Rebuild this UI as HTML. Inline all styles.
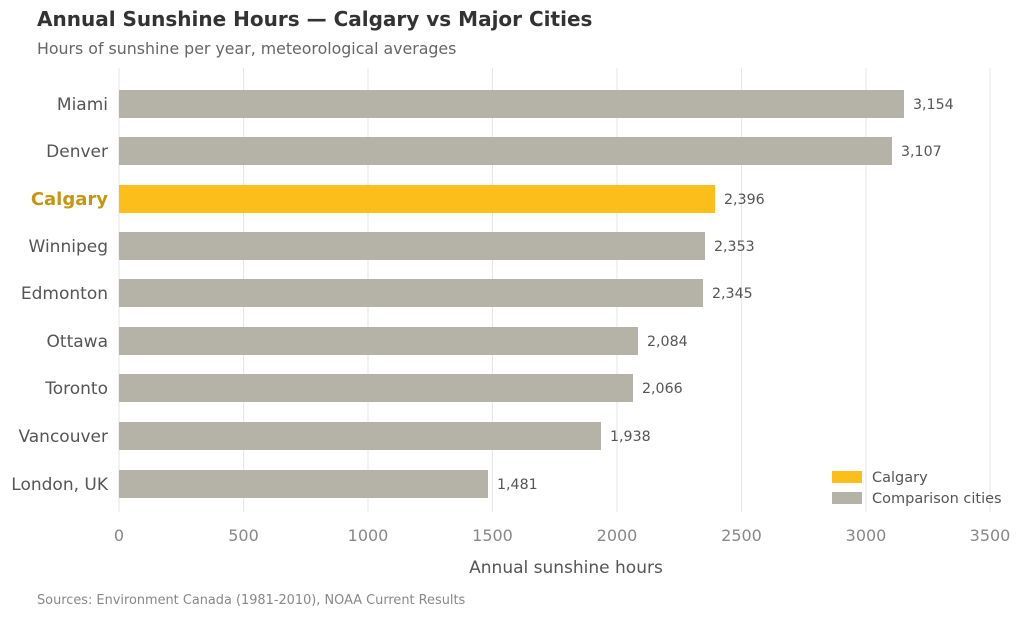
<!DOCTYPE html>
<html><head><meta charset="utf-8"><style>
body{margin:0;background:#fff;}
svg text{font-family:"DejaVu Sans","Liberation Sans",sans-serif;}
</style></head><body>
<svg width="1024" height="616" viewBox="0 0 1024 616" xmlns="http://www.w3.org/2000/svg">
<rect width="1024" height="616" fill="#fff"/>
<text x="37" y="26" font-size="20" font-weight="bold" fill="#333">Annual Sunshine Hours — Calgary vs Major Cities</text>
<text x="37" y="54" font-size="15.8" fill="#666">Hours of sunshine per year, meteorological averages</text>
<g stroke="#e6e6e6" stroke-width="1">
<line x1="119" y1="68" x2="119" y2="512"/><line x1="243.5" y1="68" x2="243.5" y2="512"/>
<line x1="368" y1="68" x2="368" y2="512"/><line x1="492.5" y1="68" x2="492.5" y2="512"/>
<line x1="617" y1="68" x2="617" y2="512"/><line x1="741.5" y1="68" x2="741.5" y2="512"/>
<line x1="866" y1="68" x2="866" y2="512"/><line x1="990" y1="68" x2="990" y2="512"/>
</g>
<g fill="#b5b2a8">
<rect x="119" y="90" width="785" height="28"/>
<rect x="119" y="137" width="773" height="28"/>
<rect x="119" y="232" width="586" height="28"/>
<rect x="119" y="279" width="584" height="28"/>
<rect x="119" y="327" width="519" height="28"/>
<rect x="119" y="374" width="514" height="28"/>
<rect x="119" y="422" width="482" height="28"/>
<rect x="119" y="470" width="369" height="28"/>
</g>
<rect x="119" y="185" width="596" height="28" fill="#fbbe1a"/>
<g font-size="17" fill="#555" text-anchor="end">
<text x="108" y="110">Miami</text><text x="108" y="157">Denver</text>
<text x="108" y="205" fill="#c4970f" font-weight="bold" font-size="18">Calgary</text>
<text x="108" y="252">Winnipeg</text><text x="108" y="299">Edmonton</text>
<text x="108" y="347">Ottawa</text><text x="108" y="394">Toronto</text>
<text x="108" y="442">Vancouver</text><text x="108" y="490">London, UK</text>
</g>
<g font-size="14.2" fill="#555">
<text x="913" y="109">3,154</text><text x="901" y="156">3,107</text>
<text x="724" y="204">2,396</text><text x="714" y="251">2,353</text>
<text x="712" y="298">2,345</text><text x="647" y="346">2,084</text>
<text x="642" y="393">2,066</text><text x="610" y="441">1,938</text>
<text x="497" y="489">1,481</text>
</g>
<g font-size="16" fill="#888" text-anchor="middle">
<text x="119" y="541">0</text><text x="243.5" y="541">500</text><text x="368" y="541">1000</text>
<text x="492.5" y="541">1500</text><text x="617" y="541">2000</text><text x="741.5" y="541">2500</text>
<text x="866" y="541">3000</text><text x="990" y="541">3500</text>
</g>
<text x="566" y="573" font-size="17" fill="#555" text-anchor="middle">Annual sunshine hours</text>
<text x="37" y="604" font-size="12.9" fill="#888">Sources: Environment Canada (1981-2010), NOAA Current Results</text>
<rect x="832" y="471" width="30" height="12" fill="#fbbe1a"/>
<rect x="832" y="492" width="30" height="12" fill="#b5b2a8"/>
<text x="872" y="482" font-size="14.5" fill="#555">Calgary</text>
<text x="872" y="503" font-size="14.5" fill="#555">Comparison cities</text>
</svg>
</body></html>
